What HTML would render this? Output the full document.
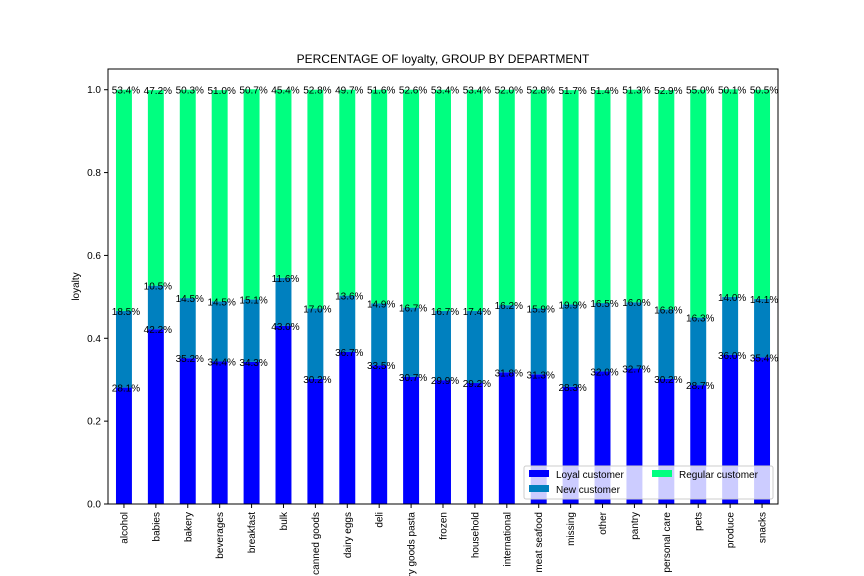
<!DOCTYPE html>
<html><head><meta charset="utf-8"><style>
body{margin:0;background:#fff;}
svg{display:block;font-family:"Liberation Sans","DejaVu Sans",sans-serif;}
</style></head><body>
<svg id="chart" width="864" height="576">
<rect width="864" height="576" fill="#fff"/>
<text x="443" y="63" font-size="12" text-anchor="middle">PERCENTAGE OF loyalty, GROUP BY DEPARTMENT</text>
<g id="bars"></g>
<g id="labels"></g>
<g id="axes"></g>
</svg>
<script>
const categories=["alcohol","babies","bakery","beverages","breakfast","bulk","canned goods","dairy eggs","deli","dry goods pasta","frozen","household","international","meat seafood","missing","other","pantry","personal care","pets","produce","snacks"];
const loyal=[28.1,42.2,35.2,34.4,34.3,43.0,30.2,36.7,33.5,30.7,29.9,29.2,31.8,31.3,28.3,32.0,32.7,30.2,28.7,36.0,35.4];
const newer=[18.5,10.5,14.5,14.5,15.1,11.6,17.0,13.6,14.9,16.7,16.7,17.4,16.2,15.9,19.9,16.5,16.0,16.8,16.3,14.0,14.1];
const regular=[53.4,47.2,50.3,51.0,50.7,45.4,52.8,49.7,51.6,52.6,53.4,53.4,52.0,52.8,51.7,51.4,51.3,52.9,55.0,50.1,50.5];
const yTicks=[0,0.2,0.4,0.6,0.8,1.0];
const seriesNames=["Loyal customer","New customer","Regular customer"];
const colors=["#0000ff","#0080bf","#00ff80"];
const NS="http://www.w3.org/2000/svg";
const L=108,R=778,T=69,B=504,yMax=1.05;
const bw=(R-L)/categories.length;
const x=i=>L+bw*(i+0.5);
const y=v=>B-(v/yMax)*(B-T);
function mk(tag,attrs,parent){const e=document.createElementNS(NS,tag);for(const k in attrs)e.setAttribute(k,attrs[k]);parent.appendChild(e);return e;}
const gb=document.getElementById('bars'),gl=document.getElementById('labels'),ga=document.getElementById('axes');
const series=[loyal,newer,regular];
categories.forEach((c,i)=>{
  let base=0;
  series.forEach((s,k)=>{
    const v=s[i]/100;
    const r=mk('rect',{x:x(i)-bw/4,y:y(base+v),width:bw/2,height:y(base)-y(base+v),fill:colors[k]},gb);
    
    
    base+=v;
    const t=mk('text',{x:x(i)+2,y:y(base)+4,'font-size':'10','text-anchor':'middle'},gl);
    t.textContent=s[i].toFixed(1)+'%';
    
    
  });
});
const fr=mk('rect',{x:L,y:T,width:R-L,height:B-T,fill:'none',stroke:'#000','stroke-width':1},ga);


yTicks.forEach(v=>{
  mk('line',{x1:L-4,x2:L,y1:y(v),y2:y(v),stroke:'#000'},ga);
  const t=mk('text',{x:L-7,y:y(v)+3.5,'font-size':'10','text-anchor':'end'},ga);
  t.textContent=v.toFixed(1);
  
  
});
categories.forEach((c,i)=>{
  mk('line',{x1:x(i),x2:x(i),y1:B,y2:B+4,stroke:'#000'},ga);
  const t=mk('text',{transform:`translate(${x(i)+3.5},${B+8}) rotate(-90)`,'font-size':'10','text-anchor':'end'},ga);
  t.textContent=c;
  
  
});
const yl=mk('text',{transform:`translate(79,${(T+B)/2}) rotate(-90)`,'font-size':'10','text-anchor':'middle'},ga);
yl.textContent='loyalty';


const lg=mk('g',{},ga);


mk('rect',{x:524,y:466,width:249,height:33,rx:2,fill:'#fff','fill-opacity':0.8,stroke:'#ccc'},lg);
const pos=[[529,470],[529,485],[652,470]];
seriesNames.forEach((n,k)=>{
  const sw=mk('rect',{x:pos[k][0],y:pos[k][1],width:20,height:7,fill:colors[k]},lg);
  
  
  const t=mk('text',{x:pos[k][0]+27,y:pos[k][1]+8,'font-size':'10'},lg);
  t.textContent=n;
  
  
});
</script>
</body></html>
